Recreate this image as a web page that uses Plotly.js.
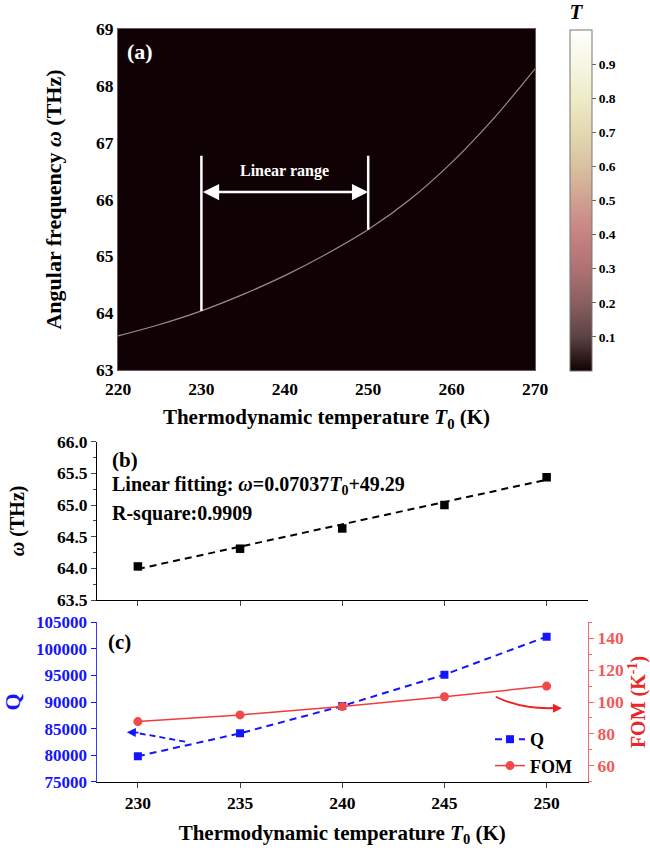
<!DOCTYPE html>
<html>
<head>
<meta charset="utf-8">
<script src="https://cdn.plot.ly/plotly-3.0.1.min.js"></script>
<style>html,body{margin:0;padding:0;background:#fff}#chart{width:650px;height:850px}</style>
</head>
<body>
<div id="chart"></div>
<script>
// ---- Panel (a): transmission map background + resonance curve ----
const mapT = [220, 270];
const mapW = [63, 69];
const mapZ = [[0, 0], [0, 0]];
const curveT = [220, 225, 230, 235, 240, 245, 250, 255, 260, 265, 270];
const curveW = [63.60, 63.80, 64.04, 64.33, 64.66, 65.04, 65.47, 66.00, 66.65, 67.42, 68.30];
const cbTicks = [0.1, 0.2, 0.3, 0.4, 0.5, 0.6, 0.7, 0.8, 0.9];

// ---- Panel (b): resonance frequency vs temperature ----
const tempB = [230, 235, 240, 245, 250];
const omegaB = [64.03, 64.31, 64.63, 65.00, 65.44];
const fitT = [230, 250];
const fitW = [63.99, 65.40];

// ---- Panel (c): Q and FOM ----
const tempC = [230, 235, 240, 245, 250];
const qVals = [79800, 84100, 89250, 95150, 102300];
const fomVals = [87.7, 91.9, 97.2, 103.3, 110.0];

const FF = 'Liberation Serif';
const bold = (size, color) => ({family: FF, size: size, color: color || '#000', weight: 'bold'});
const BLUE = '#1414ff';
const RED = '#f03c3c';
const LRED = '#f26a6a';

const pinkScale = [
  [0, 'rgb(16,2,4)'], [0.1, 'rgb(92,66,66)'], [0.2, 'rgb(138,95,95)'], [0.3, 'rgb(174,114,114)'],
  [0.4, 'rgb(198,130,130)'], [0.5, 'rgb(208,160,145)'], [0.6, 'rgb(218,192,160)'],
  [0.7, 'rgb(228,216,178)'], [0.8, 'rgb(236,236,198)'], [0.9, 'rgb(246,246,228)'], [1, 'rgb(255,255,255)']
];

const traces = [
  {type: 'heatmap', x: mapT, y: mapW, z: mapZ, zmin: 0, zmax: 1, colorscale: pinkScale,
   xaxis: 'x', yaxis: 'y', hoverinfo: 'skip', showlegend: false,
   colorbar: {x: 570/650, xanchor: 'left', xpad: 0, ypad: 0, y: 1 - 186/850, yanchor: 'middle',
     len: 370/850, lenmode: 'fraction', thickness: 22, outlinewidth: 1, outlinecolor: '#777',
     tickvals: cbTicks, ticks: 'outside', ticklen: 4, tickcolor: '#666', tickfont: bold(13.5),
     title: {text: '<i>T</i>', side: 'top', font: bold(21)}}},
  {type: 'scatter', mode: 'lines', x: curveT, y: curveW, xaxis: 'x', yaxis: 'y',
   line: {color: '#a08c82', width: 1.2, shape: 'spline'}, showlegend: false, hoverinfo: 'skip'},
  {type: 'scatter', mode: 'lines', x: fitT, y: fitW, xaxis: 'x2', yaxis: 'y2',
   line: {color: '#000', width: 2, dash: '7px,5px'}, showlegend: false},
  {type: 'scatter', mode: 'markers', x: tempB, y: omegaB, xaxis: 'x2', yaxis: 'y2',
   marker: {symbol: 'square', size: 8.5, color: '#000'}, showlegend: false},
  {type: 'scatter', mode: 'lines+markers', name: 'Q', x: tempC, y: qVals, xaxis: 'x3', yaxis: 'y3',
   line: {color: BLUE, width: 2, dash: '7px,5px'}, marker: {symbol: 'square', size: 8, color: BLUE}},
  {type: 'scatter', mode: 'lines+markers', name: 'FOM', x: tempC, y: fomVals, xaxis: 'x3', yaxis: 'y4',
   line: {color: RED, width: 1.5}, marker: {symbol: 'circle', size: 9, color: '#f04a4a'}}
];

const dA = [118/650, 535/650];
const dBC = [97/650, 587.5/650];
const yA = [1 - 370/850, 1 - 29/850];
const yB = [1 - 600/850, 1 - 441.7/850];
const yC = [1 - 781.7/850, 1 - 622.3/850];

const layout = {
  width: 650, height: 850, margin: {l: 0, r: 0, t: 0, b: 0},
  paper_bgcolor: '#fff', plot_bgcolor: 'rgba(0,0,0,0)',
  font: {family: FF, color: '#000'},
  showlegend: true,
  legend: {x: 490/650, xanchor: 'left', y: 1 - 721/850, yanchor: 'top', bgcolor: 'rgba(0,0,0,0)',
    font: bold(18), tracegroupgap: 0, itemwidth: 30},
  xaxis: {domain: dA, anchor: 'y', range: [220, 270], tickvals: [220, 230, 240, 250, 260, 270],
    ticks: '', ticklabelstandoff: 3, showline: true, mirror: true, linecolor: '#6a5a5a', linewidth: 1,
    showgrid: false, zeroline: false, tickfont: bold(17.5),
    title: {text: 'Thermodynamic temperature <i>T</i><sub>0</sub> (K)', font: bold(21), standoff: 11}},
  yaxis: {domain: yA, anchor: 'x', range: [63, 69], dtick: 1, ticks: '', showline: true, mirror: true,
    linecolor: '#6a5a5a', linewidth: 1, showgrid: false, zeroline: false, tickfont: bold(17.5),
    title: {text: 'Angular frequency <i>ω</i> (THz)', font: bold(22), standoff: 28}},
  xaxis2: {domain: dBC, anchor: 'y2', range: [228, 252], tickvals: [230, 235, 240, 245, 250],
    showticklabels: false, ticks: 'outside', ticklen: 5, tickwidth: 1, showline: true, linecolor: '#000',
    linewidth: 1, showgrid: false, zeroline: false},
  xaxis4: {domain: dBC, anchor: 'y2', overlaying: 'x2', side: 'top', range: [228, 252],
    tickvals: [230, 235, 240, 245, 250], showticklabels: false, ticks: 'inside', ticklen: 5,
    showline: true, linecolor: '#000', linewidth: 1, showgrid: false, zeroline: false},
  yaxis2: {domain: yB, anchor: 'x2', range: [63.5, 66], dtick: 0.5, tickformat: '.1f',
    ticks: 'outside', ticklen: 5, showline: true, linecolor: '#000', linewidth: 1, showgrid: false,
    zeroline: false, tickfont: bold(17.5), minor: {dtick: 0.25, ticks: 'outside', ticklen: 3},
    title: {text: '<i>ω</i> (THz)', font: bold(20), standoff: 26}},
  yaxis5: {domain: yB, anchor: 'x2', overlaying: 'y2', side: 'right', range: [63.5, 66], dtick: 0.5,
    showticklabels: false, ticks: 'inside', ticklen: 5, showline: true, linecolor: '#000', linewidth: 1,
    showgrid: false, zeroline: false, minor: {dtick: 0.25, ticks: 'inside', ticklen: 3}},
  xaxis3: {domain: dBC, anchor: 'y3', range: [228, 252], tickvals: [230, 235, 240, 245, 250],
    ticks: 'outside', ticklen: 5, showline: true, linecolor: '#000', linewidth: 1, showgrid: false,
    zeroline: false, tickfont: bold(17.5),
    title: {text: 'Thermodynamic temperature <i>T</i><sub>0</sub> (K)', font: bold(21), standoff: 13}},
  xaxis5: {domain: dBC, anchor: 'y3', overlaying: 'x3', side: 'top', range: [228, 252],
    tickvals: [230, 235, 240, 245, 250], showticklabels: false, ticks: 'inside', ticklen: 5,
    showline: true, linecolor: '#000', linewidth: 1, showgrid: false, zeroline: false},
  yaxis3: {domain: yC, anchor: 'x3', range: [75000, 105000], dtick: 5000, tickformat: 'd',
    ticks: 'outside', ticklen: 5, tickcolor: BLUE, showline: true, linecolor: '#3a3aff', linewidth: 1.5,
    showgrid: false, zeroline: false, tickfont: bold(17, BLUE),
    title: {text: 'Q', font: bold(22, BLUE), standoff: 9}},
  yaxis4: {domain: yC, anchor: 'x3', overlaying: 'y3', side: 'right', range: [50, 150],
    tickvals: [60, 80, 100, 120, 140], ticks: 'outside', ticklen: 5, tickcolor: LRED, showline: true,
    linecolor: LRED, linewidth: 1.5, showgrid: false, zeroline: false, tickfont: bold(17.5, '#f05a5a'),
    minor: {dtick: 10, ticks: 'outside', ticklen: 3, tickcolor: LRED},
    title: {text: 'FOM (K<sup>-1</sup>)', font: bold(20, '#e82828'), standoff: 12}},
  shapes: [
    {type: 'line', xref: 'x', yref: 'y', x0: 230, x1: 230, y0: 64.04, y1: 66.77, line: {color: '#fff', width: 2.5}},
    {type: 'line', xref: 'x', yref: 'y', x0: 250, x1: 250, y0: 65.47, y1: 66.77, line: {color: '#fff', width: 2.5}},
    {type: 'path', xref: 'x3', yref: 'y3', path: 'M 232.31,82528 Q 231.09,83413 229.9,84200',
     line: {color: BLUE, width: 1.8, dash: '6px,4px'}},
    {type: 'path', xref: 'x3', yref: 'y4', path: 'M 247.51,103.3 Q 248.74,95.6 250.3,96.1',
     line: {color: '#f02020', width: 1.8}}
  ],
  annotations: [
    {xref: 'x', yref: 'y', x: 250, y: 66.13, ax: 230, ay: 66.13, axref: 'x', ayref: 'y', text: '',
     showarrow: true, arrowside: 'end+start', arrowhead: 2, arrowsize: 1.3, arrowwidth: 2.5, arrowcolor: '#fff',
     standoff: 0, startstandoff: 0},
    {xref: 'x', yref: 'y', x: 240, y: 66.51, text: 'Linear range', showarrow: false, font: bold(16, '#fff')},
    {xref: 'paper', yref: 'paper', x: 125/650, y: 1 - 52/850, xanchor: 'left', yanchor: 'middle',
     text: '(a)', showarrow: false, font: bold(22, '#fff')},
    {xref: 'paper', yref: 'paper', x: 110/650, y: 1 - 460/850, xanchor: 'left', yanchor: 'middle',
     text: '(b)', showarrow: false, font: bold(21)},
    {xref: 'paper', yref: 'paper', x: 110/650, y: 1 - 485/850, xanchor: 'left', yanchor: 'middle',
     text: 'Linear fitting: <i>ω</i>=0.07037<i>T</i><sub>0</sub>+49.29', showarrow: false, font: bold(20)},
    {xref: 'paper', yref: 'paper', x: 110/650, y: 1 - 513/850, xanchor: 'left', yanchor: 'middle',
     text: 'R-square:0.9909', showarrow: false, font: bold(20)},
    {xref: 'paper', yref: 'paper', x: 106/650, y: 1 - 642/850, xanchor: 'left', yanchor: 'middle',
     text: '(c)', showarrow: false, font: bold(21)},
    {xref: 'x3', yref: 'y3', x: 229.46, y: 84297, ax: 230.1, ay: 84210, axref: 'x3', ayref: 'y3', text: '',
     showarrow: true, arrowhead: 2, arrowsize: 1, arrowwidth: 1.8, arrowcolor: BLUE, standoff: 0},
    {xref: 'x3', yref: 'y4', x: 250.75, y: 96.1, ax: 250.1, ay: 96.1, axref: 'x3', ayref: 'y4', text: '',
     showarrow: true, arrowhead: 2, arrowsize: 1, arrowwidth: 1.8, arrowcolor: '#f02020', standoff: 0}
  ]
};

Plotly.newPlot('chart', traces, layout, {displayModeBar: false, staticPlot: true});
</script>
</body>
</html>
